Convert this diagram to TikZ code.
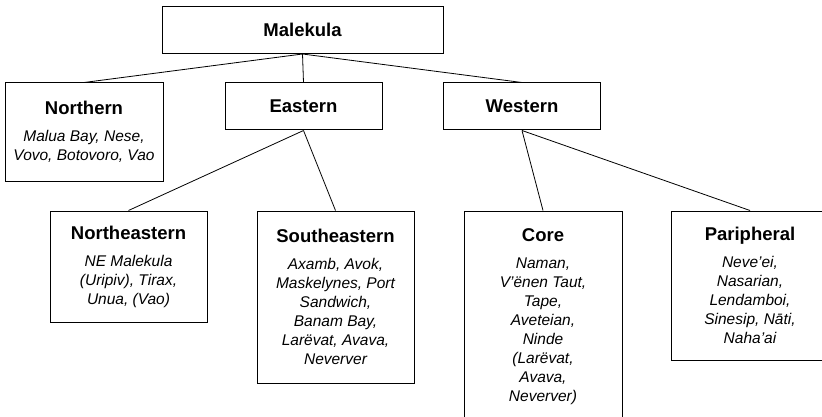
\documentclass[tikz,border=0pt]{standalone}
\usepackage{fontspec}
\setmainfont{Liberation Sans}
\newcommand{\grp}[1]{{\normalfont\fontsize{18.5}{22}\selectfont\bfseries #1}}
\begin{document}
\begin{tikzpicture}[x=1pt,y=-1pt,
  box/.style={draw=black,line width=1pt,align=center,inner sep=0pt,minimum width=157,
    font=\fontsize{15.5}{19}\selectfont\itshape},
  link/.style={black,line width=0.8pt}]
\useasboundingbox (0,0) rectangle (822,417);
\clip (0,0) rectangle (822,417);
% top level
\node[box,minimum width=281,minimum height=47] (malekula) at (302.5,30) {\grp{Malekula}};
% branches
\node[box,minimum width=158,minimum height=98] (northern) at (84,132) {\grp{Northern}\\[8pt]Malua Bay, Nese,\\Vovo, Botovoro, Vao};
\node[box,minimum height=47] (eastern) at (303.5,106.5) {\grp{Eastern}};
\node[box,minimum height=47] (western) at (522,106.5) {\grp{Western}};
% subgroups
\node[box,minimum height=111] (northeastern) at (128.5,266.5) {\grp{Northeastern}\\[8pt]NE Malekula\\(Uripiv), Tirax,\\Unua, (Vao)};
\node[box,minimum height=172] (southeastern) at (335.5,297) {\grp{Southeastern}\\[8pt]Axamb, Avok,\\Maskelynes, Port\\Sandwich,\\Banam Bay,\\Larëvat, Avava,\\Neverver};
\node[box,minimum width=158,minimum height=212] (core) at (543,317) {\grp{Core}\\[8pt]Naman,\\V’ënen Taut,\\Tape,\\Aveteian,\\Ninde\\(Larëvat,\\Avava,\\Neverver)};
\node[box,minimum height=149] (peripheral) at (750,285.5) {\grp{Paripheral}\\[8pt]Neve’ei,\\Nasarian,\\Lendamboi,\\Sinesip, Nāti,\\Naha’ai};
% connectors
\draw[link] (malekula.south) -- (northern.north);
\draw[link] (malekula.south) -- (eastern.north);
\draw[link] (malekula.south) -- (western.north);
\draw[link] (eastern.south) -- (northeastern.north);
\draw[link] (eastern.south) -- (southeastern.north);
\draw[link] (western.south) -- (core.north);
\draw[link] (western.south) -- (peripheral.north);
\end{tikzpicture}
\end{document}
